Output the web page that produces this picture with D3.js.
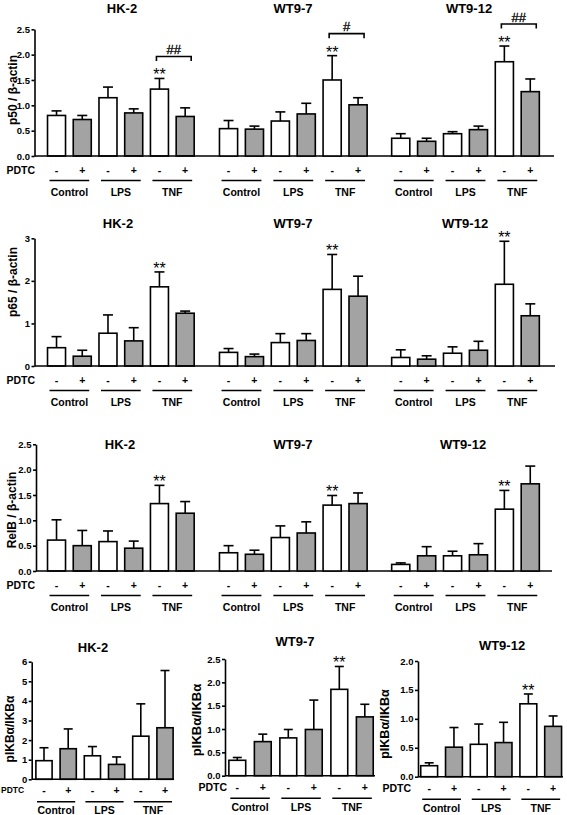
<!DOCTYPE html>
<html><head><meta charset="utf-8">
<script src="https://cdn.jsdelivr.net/npm/d3@7"></script>
<style>
html,body{margin:0;padding:0;background:#fff;}
svg{display:block;font-family:"Liberation Sans",Arial,sans-serif;}
</style></head><body>
<svg id="chart" width="567" height="815"></svg>
<script>
// ---------- DATA ----------
const cellLines = ["HK-2", "WT9-7", "WT9-12"];
const treatments = ["Control", "LPS", "TNF"];
const pdtcSigns = ["-", "+"];

// order per panel: Control-, Control+, LPS-, LPS+, TNF-, TNF+
const p50Mean = [[0.80,0.72,1.15,0.85,1.32,0.78],[0.54,0.53,0.69,0.83,1.50,1.01],[0.35,0.29,0.44,0.52,1.86,1.27]];
const p50Err  = [[0.09,0.08,0.21,0.08,0.21,0.17],[0.16,0.06,0.18,0.21,0.48,0.14],[0.09,0.06,0.04,0.07,0.31,0.25]];
const p65Mean = [[0.43,0.23,0.77,0.59,1.86,1.24],[0.32,0.22,0.55,0.60,1.80,1.64],[0.20,0.16,0.30,0.37,1.92,1.18]];
const p65Err  = [[0.26,0.14,0.43,0.31,0.35,0.05],[0.09,0.06,0.21,0.16,0.82,0.47],[0.18,0.08,0.15,0.21,1.01,0.28]];
const relbMean = [[0.61,0.50,0.58,0.45,1.33,1.14],[0.36,0.33,0.66,0.75,1.30,1.33],[0.13,0.30,0.30,0.32,1.22,1.72]];
const relbErr  = [[0.40,0.30,0.21,0.14,0.36,0.23],[0.14,0.08,0.23,0.22,0.19,0.21],[0.03,0.18,0.09,0.22,0.37,0.35]];
const ikbMean = [[0.95,1.56,1.20,0.76,2.20,2.63],[0.33,0.73,0.81,0.99,1.85,1.26],[0.19,0.51,0.56,0.59,1.26,0.87]];
const ikbErr  = [[0.66,1.01,0.47,0.38,1.65,2.92],[0.06,0.16,0.18,0.63,0.49,0.27],[0.05,0.34,0.35,0.35,0.17,0.18]];

// significance over TNF(-) bar, and bracket TNF(-) vs TNF(+)
const p50Stars = ["**", "**", "**"];
const p50Hash = ["##", "#", "##"];
const p65Stars = ["**", "**", "**"];
const relbStars = ["**", "**", "**"];
const ikbStars = ["", "**", "**"];

// tick labels
const ticks25 = [0, 0.5, 1.0, 1.5, 2.0, 2.5];
const ticks3 = [0, 1, 2, 3];
const ticks6 = [0, 1, 2, 3, 4, 5, 6];
const ticks20 = [0, 0.5, 1.0, 1.5, 2.0];

// ---------- DRAWING ----------
const svg = d3.select("#chart");
svg.append("rect").attr("width", 567).attr("height", 815).attr("fill", "#fff");
const keys = treatments.flatMap(t => pdtcSigns.map(s => t + s));
const GRAY = "#a3a3a3";
const SW = 1.6;

function yAxis(y, axisX, tickVals, fmt) {
  const g = svg.append("g").attr("transform", `translate(${axisX},0)`)
    .call(d3.axisLeft(y).tickValues(tickVals).tickFormat(fmt).tickSize(3).tickSizeOuter(0).tickPadding(1.5));
  g.select(".domain").attr("stroke", "#000").attr("stroke-width", SW);
  g.selectAll(".tick line").attr("stroke", "#000").attr("stroke-width", SW);
  g.selectAll(".tick text").attr("fill", "#000").attr("font-size", 9.5).attr("font-weight", "bold")
    .attr("font-family", '"Liberation Sans",Arial,sans-serif');
}

function yLabel(text, x, yc, size) {
  svg.append("text").attr("transform", `translate(${x},${yc}) rotate(-90)`)
    .attr("text-anchor", "middle").attr("dominant-baseline", "central")
    .attr("font-size", size).attr("font-weight", "bold").text(text);
}

function panel(c) {
  const x = d3.scaleBand().domain(keys).range(c.xRange).paddingInner(c.pad).paddingOuter(c.pad);
  const y = d3.scaleLinear().domain([0, c.yMax]).range([c.yBase, c.yTop]);
  const bw = x.bandwidth();
  const cx = k => x(k) + bw / 2;
  const data = keys.map((k, i) => ({ k, m: c.mean[i], e: c.err[i], fill: i % 2 ? GRAY : "#fff" }));
  const g = svg.append("g");
  // error bars (upward only)
  g.selectAll(".eb").data(data).join("line").attr("x1", d => cx(d.k)).attr("x2", d => cx(d.k))
    .attr("y1", d => y(d.m)).attr("y2", d => y(d.m + d.e)).attr("stroke", "#000").attr("stroke-width", SW);
  g.selectAll(".cap").data(data).join("line").attr("x1", d => cx(d.k) - c.cap / 2).attr("x2", d => cx(d.k) + c.cap / 2)
    .attr("y1", d => y(d.m + d.e)).attr("y2", d => y(d.m + d.e)).attr("stroke", "#000").attr("stroke-width", SW);
  // bars
  g.selectAll(".bar").data(data).join("rect").attr("x", d => x(d.k)).attr("width", bw)
    .attr("y", d => y(d.m)).attr("height", d => y(0) - y(d.m))
    .attr("fill", d => d.fill).attr("stroke", "#000").attr("stroke-width", SW);
  // title
  svg.append("text").attr("x", c.titleX).attr("y", c.titleY).attr("text-anchor", "middle")
    .attr("dominant-baseline", "central").attr("font-size", 13).attr("font-weight", "bold").text(c.title);
  // stars over TNF-
  const tnfM = "TNF-", tnfP = "TNF+";
  const iM = keys.indexOf(tnfM);
  const topM = y(c.mean[iM] + c.err[iM]);
  if (c.stars) {
    svg.append("text").attr("x", cx(tnfM)).attr("y", topM + 2).attr("text-anchor", "middle")
      .attr("font-size", 16).attr("font-weight", "normal").text(c.stars);
  }
  if (c.hash) {
    const by = topM - 22;
    const x1 = cx(tnfM) - 3, x2 = cx(tnfP) + 6;
    svg.append("path").attr("d", `M${x1},${by + 4.5}V${by}H${x2}V${by + 4.5}`)
      .attr("fill", "none").attr("stroke", "#000").attr("stroke-width", SW);
    svg.append("text").attr("x", (x1 + x2) / 2).attr("y", by - 7).attr("text-anchor", "middle")
      .attr("dominant-baseline", "central").attr("font-size", 13).attr("stroke", "#000")
      .attr("stroke-width", 0.3).text(c.hash);
  }
  // baseline
  if (c.baseline) {
    svg.append("line").attr("x1", c.baseline[0]).attr("x2", c.baseline[1]).attr("y1", y(0)).attr("y2", y(0))
      .attr("stroke", "#000").attr("stroke-width", SW);
  }
  // PDTC signs
  const base = y(0);
  svg.selectAll(null).data(data).join("text").attr("x", d => cx(d.k)).attr("y", base + c.off[0])
    .attr("text-anchor", "middle").attr("dominant-baseline", "central")
    .attr("font-size", 10.5).attr("font-weight", "bold").text((d, i) => pdtcSigns[i % 2]);
  if (c.pdtc) {
    svg.append("text").attr("x", c.pdtc.x).attr("y", base + c.off[0]).attr("text-anchor", c.pdtc.anchor)
      .attr("dominant-baseline", "central").attr("font-size", c.pdtc.size).attr("font-weight", "bold").text("PDTC");
  }
  treatments.forEach(t => {
    const l = cx(t + "-") - 7, r = cx(t + "+") + 7;
    svg.append("line").attr("x1", l).attr("x2", r).attr("y1", base + c.off[1]).attr("y2", base + c.off[1])
      .attr("stroke", "#000").attr("stroke-width", SW);
    svg.append("text").attr("x", (l + r) / 2).attr("y", base + c.off[2]).attr("text-anchor", "middle")
      .attr("dominant-baseline", "central").attr("font-size", 10.5).attr("font-weight", "bold").text(t);
  });
  return y;
}

// rows 1-3: shared baseline, single y-axis
const sharedRows = [
  { mean: p50Mean, err: p50Err, stars: p50Stars, hash: p50Hash, yMax: 2.5, ticks: ticks25, fmt: d3.format(".1f"),
    yTop: 29.3, yBase: 156, axisX: 34.5, lineEnd: 554, label: "p50 / β-actin", labelX: 13, labelY: 90,
    titleY: 8, titleX: [122, 293, 469] },
  { mean: p65Mean, err: p65Err, stars: p65Stars, hash: null, yMax: 3, ticks: ticks3, fmt: d3.format("d"),
    yTop: 238.3, yBase: 366, axisX: 34.5, lineEnd: 555, label: "p65 / β-actin", labelX: 13, labelY: 282,
    titleY: 223, titleX: [118, 293, 465] },
  { mean: relbMean, err: relbErr, stars: relbStars, hash: null, yMax: 2.5, ticks: ticks25, fmt: d3.format(".1f"),
    yTop: 444.3, yBase: 571, axisX: 36, lineEnd: 552, label: "RelB / β-actin", labelX: 12, labelY: 510,
    titleY: 444, titleX: [120, 293, 463] }
];
const sharedRanges = [[39.8, 201.9], [211.7, 374.9], [383.9, 547.1]];

sharedRows.forEach(r => {
  let y;
  cellLines.forEach((cl, p) => {
    y = panel({
      mean: r.mean[p], err: r.err[p], yMax: r.yMax, yTop: r.yTop, yBase: r.yBase,
      xRange: sharedRanges[p], pad: 0.3, cap: 10,
      title: cl, titleX: r.titleX[p], titleY: r.titleY,
      stars: r.stars[p], hash: r.hash ? r.hash[p] : null,
      baseline: p === 0 ? [r.axisX, r.lineEnd] : null,
      pdtc: p === 0 ? { x: 35, anchor: "end", size: 10.5 } : null, off: [14, 24.5, 35.5]
    });
  });
  yAxis(y, r.axisX, r.ticks, r.fmt);
  yLabel(r.label, r.labelX, r.labelY, 12);
});

// row 4: separate panels
const ikbPanels = [
  { yMax: 6, ticks: ticks6, fmt: d3.format("d"), yTop: 661.7, yBase: 779.3, axisX: 31.7, lineEnd: 174,
    xRange: [27.9, 181.1], pad: 0.33, labelX: 10, labelY: 729, labelSize: 12, titleX: 93, titleY: 647.5,
    pdtc: { x: 1, anchor: "start", size: 8.5 } },
  { yMax: 2.5, ticks: ticks25, fmt: d3.format(".1f"), yTop: 659, yBase: 775.7, axisX: 225, lineEnd: 375,
    xRange: [220.2, 381.9], pad: 0.34, labelX: 196, labelY: 720, labelSize: 13, titleX: 295, titleY: 641.7,
    pdtc: { x: 227, anchor: "end", size: 10.5 } },
  { yMax: 2, ticks: ticks20, fmt: d3.format(".1f"), yTop: 661, yBase: 776.7, axisX: 418, lineEnd: 563,
    xRange: [412.8, 569.5], pad: 0.32, labelX: 385, labelY: 724, labelSize: 12.5, titleX: 502, titleY: 645.7,
    pdtc: { x: 411, anchor: "end", size: 10.5 } }
];
ikbPanels.forEach((c, p) => {
  const y = panel({
    mean: ikbMean[p], err: ikbErr[p], yMax: c.yMax, yTop: c.yTop, yBase: c.yBase,
    xRange: c.xRange, pad: c.pad, cap: 9, title: cellLines[p], titleX: c.titleX, titleY: c.titleY,
    stars: ikbStars[p], hash: null, baseline: [c.axisX, c.lineEnd], pdtc: c.pdtc, off: [11, 22.5, 31]
  });
  yAxis(y, c.axisX, c.ticks, c.fmt);
  yLabel("pIKBα/IKBα", c.labelX, c.labelY, c.labelSize);
});
</script>
</body></html>
